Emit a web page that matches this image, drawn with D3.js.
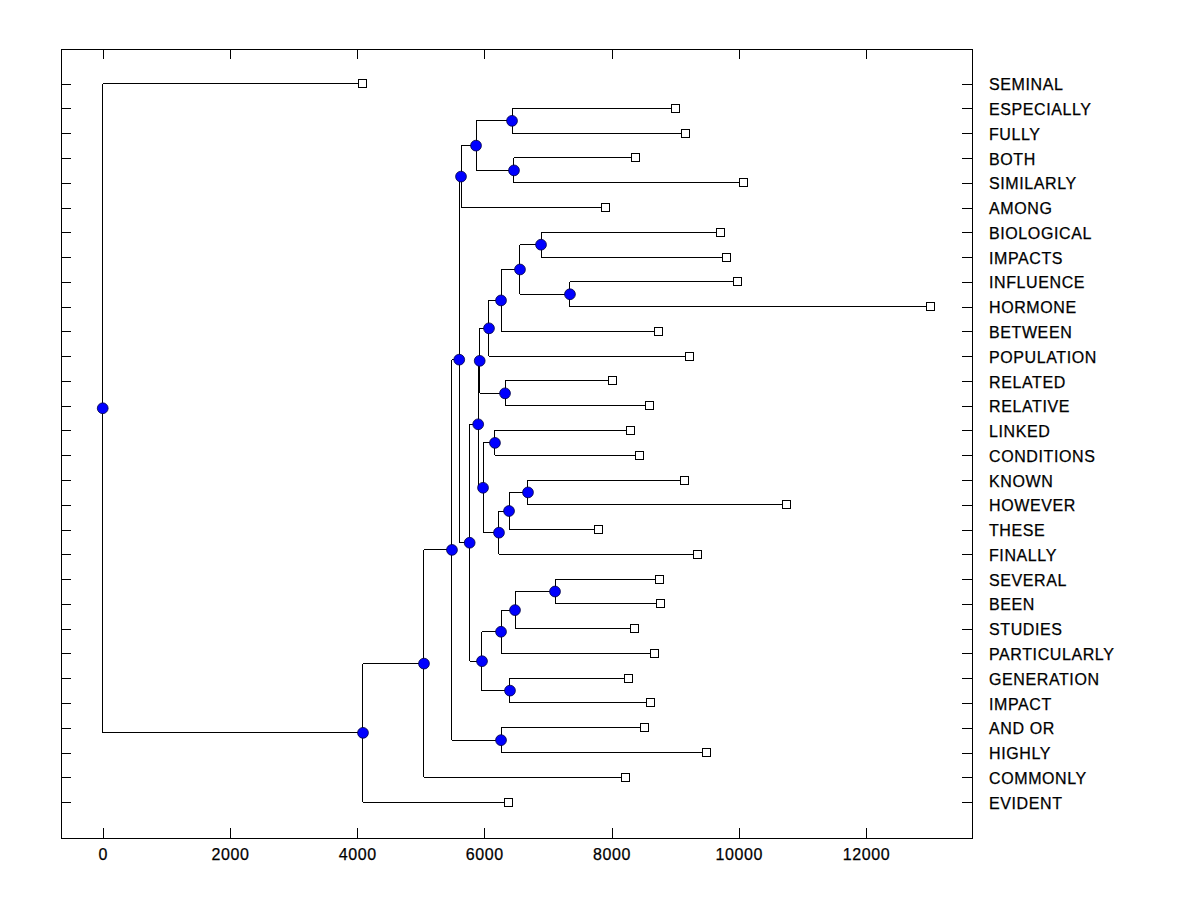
<!DOCTYPE html>
<html>
<head>
<meta charset="utf-8">
<script src="https://cdn.jsdelivr.net/npm/d3@7"></script>
<style>
  body { margin: 0; background: #fff; }
  #chart text { font-family: "Liberation Sans", Arial, sans-serif; font-size: 16px; letter-spacing: 0.6px; fill: #000; stroke: #000; stroke-width: 0.25px; }
</style>
</head>
<body>
<div id="chart"></div>
<script>
// Leaves, top to bottom, with the value at which each leaf ends
var leafNames = ["SEMINAL", "ESPECIALLY", "FULLY", "BOTH", "SIMILARLY", "AMONG",
    "BIOLOGICAL", "IMPACTS", "INFLUENCE", "HORMONE", "BETWEEN", "POPULATION",
    "RELATED", "RELATIVE", "LINKED", "CONDITIONS", "KNOWN", "HOWEVER", "THESE",
    "FINALLY", "SEVERAL", "BEEN", "STUDIES", "PARTICULARLY", "GENERATION",
    "IMPACT", "AND OR", "HIGHLY", "COMMONLY", "EVIDENT"];
var leafValues = [4092, 9013, 9170, 8384, 10082, 7897,
    9705, 9815, 9987, 13022, 8745, 9233,
    8007, 8604, 8290, 8447, 9154, 10758, 7787,
    9359, 8761, 8777, 8368, 8683, 8274,
    8620, 8525, 9500, 8227, 6387];

// Merges (children are leaf names or earlier node ids)
var nodeIds = ["n1", "n2", "n3", "n4", "n5", "n6", "n7", "n8", "n9", "n10",
    "n11", "n12", "n13", "n14", "n15", "n16", "n17", "n18", "n19", "n20",
    "n21", "n22", "n23", "n24", "n25", "n26", "n27", "n28", "n29"];
var nodeLeft = ["ESPECIALLY", "BOTH", "n1", "n3", "BIOLOGICAL", "INFLUENCE", "n5", "n7", "n8", "RELATED",
    "n9", "LINKED", "KNOWN", "n13", "n14", "n12", "n11", "SEVERAL", "n18", "n19",
    "GENERATION", "n20", "n17", "n4", "AND OR", "n24", "n26", "n27", "SEMINAL"];
var nodeRight = ["FULLY", "SIMILARLY", "n2", "AMONG", "IMPACTS", "HORMONE", "n6", "BETWEEN", "POPULATION", "RELATIVE",
    "n10", "CONDITIONS", "HOWEVER", "THESE", "FINALLY", "n15", "n16", "BEEN", "STUDIES", "PARTICULARLY",
    "IMPACT", "n21", "n22", "n23", "HIGHLY", "n25", "COMMONLY", "EVIDENT", "n28"];
var nodeValues = [6435, 6466, 5869, 5633, 6891, 7346, 6560, 6262, 6073, 6325,
    5927, 6167, 6686, 6388, 6230, 5979, 5903, 7111, 6482, 6262,
    6403, 5963, 5769, 5605, 6262, 5491, 5051, 4092, 0];

var xTicks = [0, 2000, 4000, 6000, 8000, 10000, 12000];

function createDendrogram() {
    var width = 1200, height = 900;
    var plot = { left: 61, right: 972, top: 49, bottom: 838 };

    var svg = d3.select("#chart").append("svg")
        .attr("width", width)
        .attr("height", height);

    var x = d3.scaleLinear().domain([-656, 13667]).range([plot.left, plot.right]);
    var y = d3.scaleLinear().domain([-1.4, 30.45]).range([plot.top, plot.bottom]);

    // position (value, row) of every leaf and node
    var pos = {};
    leafNames.forEach(function (name, i) {
        pos[name] = { v: leafValues[i], row: i };
    });
    nodeIds.forEach(function (id, i) {
        var a = pos[nodeLeft[i]], b = pos[nodeRight[i]];
        pos[id] = { v: nodeValues[i], row: (a.row + b.row) / 2 };
    });

    var links = svg.append("g")
        .attr("stroke", "#000")
        .attr("stroke-width", 1)
        .attr("fill", "none")
        .attr("shape-rendering", "crispEdges");

    nodeIds.forEach(function (id, i) {
        var p = pos[id];
        [nodeLeft[i], nodeRight[i]].forEach(function (c) {
            var q = pos[c];
            links.append("line")
                .attr("x1", x(p.v)).attr("x2", x(q.v))
                .attr("y1", y(q.row)).attr("y2", y(q.row));
        });
        links.append("line")
            .attr("x1", x(p.v)).attr("x2", x(p.v))
            .attr("y1", y(pos[nodeLeft[i]].row))
            .attr("y2", y(pos[nodeRight[i]].row));
    });

    // frame and ticks
    svg.append("rect")
        .attr("x", plot.left).attr("y", plot.top)
        .attr("width", plot.right - plot.left)
        .attr("height", plot.bottom - plot.top)
        .attr("fill", "none").attr("stroke", "#000")
        .attr("shape-rendering", "crispEdges");

    var rows = d3.range(leafNames.length);

    var xAxis = svg.append("g")
        .attr("transform", "translate(0," + plot.bottom + ")")
        .call(d3.axisBottom(x).tickValues(xTicks).tickSizeInner(-10).tickSizeOuter(0).tickPadding(11)
            .tickFormat(d3.format("d")));
    var xAxisTop = svg.append("g")
        .attr("transform", "translate(0," + plot.top + ")")
        .call(d3.axisTop(x).tickValues(xTicks).tickSizeInner(-10).tickSizeOuter(0).tickFormat(""));
    var yAxis = svg.append("g")
        .attr("transform", "translate(" + plot.left + ",0)")
        .call(d3.axisLeft(y).tickValues(rows).tickSizeInner(-10).tickSizeOuter(0).tickFormat(""));
    var yAxisRight = svg.append("g")
        .attr("transform", "translate(" + plot.right + ",0)")
        .call(d3.axisRight(y).tickValues(rows).tickSizeInner(-10).tickSizeOuter(0).tickPadding(17)
            .tickFormat(function (d) { return leafNames[d]; }));
    yAxisRight.selectAll("text").attr("dy", "0.38em");

    [xAxis, xAxisTop, yAxis, yAxisRight].forEach(function (g) {
        g.select(".domain").remove();
        g.attr("font-family", null).attr("font-size", null);
        g.selectAll("line").attr("stroke", "#000").attr("shape-rendering", "crispEdges");
    });

    // leaf squares
    svg.append("g").selectAll("rect")
        .data(leafNames)
        .enter().append("rect")
        .attr("x", function (d) { return x(pos[d].v) - 4; })
        .attr("y", function (d) { return y(pos[d].row) - 4; })
        .attr("width", 8)
        .attr("height", 8)
        .attr("fill", "#fff")
        .attr("stroke", "#000")
        .attr("shape-rendering", "crispEdges");

    // merge nodes
    svg.append("g").selectAll("circle")
        .data(nodeIds)
        .enter().append("circle")
        .attr("cx", function (d) { return x(pos[d].v); })
        .attr("cy", function (d) { return y(pos[d].row); })
        .attr("r", 5.4)
        .attr("fill", "#0000ff")
        .attr("stroke", "#000040")
        .attr("stroke-width", 0.8);
}

createDendrogram();
</script>
</body>
</html>
